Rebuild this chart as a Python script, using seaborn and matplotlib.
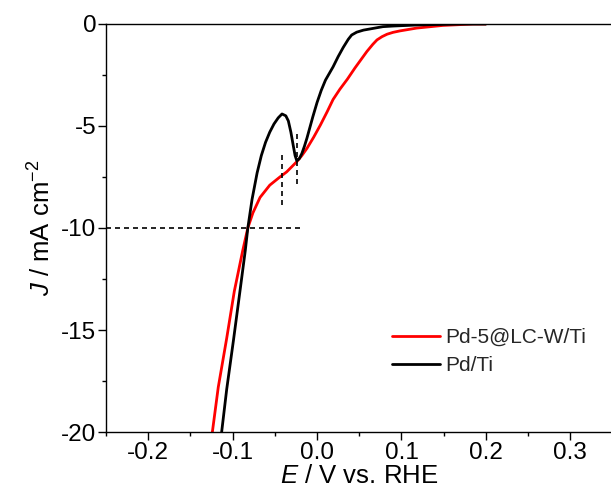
import numpy as np
import pandas as pd
import matplotlib
matplotlib.use("Agg")
import matplotlib.pyplot as plt
import seaborn as sns
from matplotlib.ticker import MultipleLocator
from matplotlib.lines import Line2D

# ---- data ----
series_names = ["Pd-5@LC-W/Ti", "Pd/Ti"]
colors = ["#ff0000", "#000000"]

red_E = [-0.124, -0.117, -0.107, -0.098, -0.088, -0.082, -0.076, -0.0675, -0.056, -0.044,
         -0.036, -0.030, -0.024, -0.018, -0.012, -0.004, 0.004, 0.012, 0.019, 0.027,
         0.036, 0.045, 0.059, 0.066, 0.071, 0.077, 0.083, 0.090, 0.098, 0.118,
         0.149, 0.185, 0.20]
red_J = [-20.0, -17.8, -15.4, -13.1, -11.1, -10.0, -9.26, -8.5, -7.9, -7.5,
         -7.25, -7.0, -6.75, -6.45, -6.1, -5.55, -4.95, -4.3, -3.7, -3.2,
         -2.7, -2.15, -1.35, -1.0, -0.78, -0.62, -0.5, -0.41, -0.34, -0.2,
         -0.07, 0.0, 0.0]

black_E = [-0.113, -0.107, -0.099, -0.091, -0.085, -0.082, -0.077, -0.071, -0.066, -0.061,
           -0.056, -0.051, -0.046, -0.0415, -0.037, -0.034, -0.031, -0.028, -0.026, -0.024,
           -0.021, -0.018, -0.015, -0.012, -0.005, 0.000, 0.005, 0.010, 0.019, 0.025,
           0.031, 0.037, 0.041, 0.047, 0.055, 0.078, 0.090, 0.118, 0.137, 0.170, 0.20]
black_J = [-20.0, -17.9, -15.5, -13.0, -11.1, -10.0, -8.6, -7.3, -6.45, -5.8,
           -5.3, -4.9, -4.6, -4.41, -4.5, -4.75, -5.3, -6.0, -6.45, -6.7,
           -6.6, -6.35, -6.0, -5.6, -4.55, -3.85, -3.25, -2.75, -2.1, -1.6,
           -1.15, -0.75, -0.54, -0.4, -0.3, -0.13, -0.1, -0.05, -0.03, 0.0, 0.0]

# guide lines (dashed)
hline_J = -10.0
hline_E = [-0.25, -0.020]
vline1_E = -0.0415
vline1_J = [-6.4, -8.97]
vline2_E = -0.024
vline2_J = [-5.4, -8.0]

x_ticks = [-0.2, -0.1, 0.0, 0.1, 0.2, 0.3]
y_ticks = [0, -5, -10, -15, -20]

df = pd.concat([
    pd.DataFrame({"E": red_E, "J": red_J, "sample": series_names[0]}),
    pd.DataFrame({"E": black_E, "J": black_J, "sample": series_names[1]}),
], ignore_index=True)

sns.set_theme(style="ticks")
plt.rcParams["font.family"] = ["Liberation Sans", "DejaVu Sans"]
plt.rcParams["mathtext.fontset"] = "custom"
plt.rcParams["mathtext.it"] = "Liberation Sans:italic"
plt.rcParams["mathtext.rm"] = "Liberation Sans"

fig = plt.figure(figsize=(6.11, 5.04), dpi=100)
ax = fig.add_axes([106/611, 72/504, (612.5-106)/611, (432-24)/504])

sns.lineplot(data=df, x="E", y="J", hue="sample", palette=dict(zip(series_names, colors)),
             sort=False, estimator=None, units="sample", lw=2.0, ax=ax, legend=False)

dash = (3, 2.4)
ax.plot(hline_E, [hline_J, hline_J], color="black", lw=1.2, dashes=dash)
ax.plot([vline1_E, vline1_E], vline1_J, color="black", lw=1.2, dashes=dash)
ax.plot([vline2_E, vline2_E], vline2_J, color="black", lw=1.2, dashes=dash)

ax.set_xlim(-0.25, 0.35)
ax.set_ylim(-20, 0)
ax.set_xticks(x_ticks)
ax.set_xticklabels([f"{v:.1f}" for v in x_ticks])
ax.set_yticks(y_ticks)
ax.set_yticklabels([str(v) for v in y_ticks])
ax.xaxis.set_minor_locator(MultipleLocator(0.05))
ax.yaxis.set_minor_locator(MultipleLocator(2.5))
ax.tick_params(which="major", direction="out", length=5.5, width=1.0, labelsize=17.5,
               color="black", labelcolor="black", pad=1.5)
ax.tick_params(which="minor", direction="out", length=3, width=1.0, color="black")
for s in ax.spines.values():
    s.set_linewidth(1.0)
    s.set_color("black")

ax.set_xlabel(r"$\mathit{E}$ / V vs. RHE", fontsize=18.5, color="black", labelpad=0)
ax.set_ylabel(r"$\mathit{J}$ / mA cm$^{-2}$", fontsize=18.5, color="black", labelpad=4)

handles = [Line2D([], [], color=c, lw=2.0) for c in colors]
ax.legend(handles, series_names, loc="upper left", bbox_to_anchor=(392/611, (504-328)/504),
          bbox_transform=fig.transFigure, frameon=False, fontsize=15, handlelength=2.3,
          handletextpad=0.25, labelspacing=0.45, borderpad=0, borderaxespad=0)

fig.savefig("out.png", dpi=100)
